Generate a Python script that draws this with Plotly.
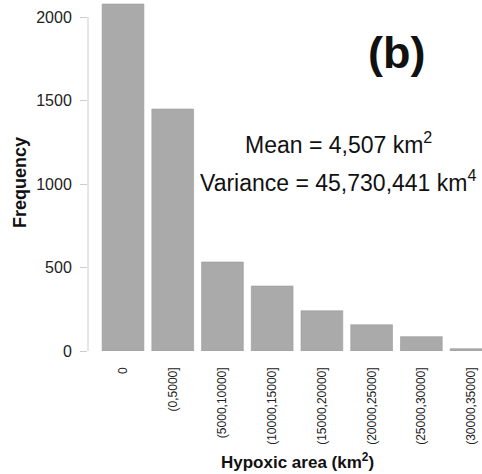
import plotly.graph_objects as go

categories = ["0", "(0,5000]", "(5000,10000]", "(10000,15000]", "(15000,20000]",
              "(20000,25000]", "(25000,30000]", "(30000,35000]"]
frequency = [2078, 1449, 533, 389, 241, 157, 86, 14]
y_ticks = [0, 500, 1000, 1500, 2000]

W, H = 482, 474
L, R, T, B = 88, 0, 0, 123

fig = go.Figure()
fig.add_trace(go.Bar(
    x=list(range(len(categories))), y=frequency,
    marker=dict(color="#aaaaaa", line=dict(color="#9a9a9a", width=0.6)),
    hoverinfo="skip",
))

fig.update_layout(
    width=W, height=H,
    margin=dict(l=L, r=R, t=T, b=B, pad=0),
    plot_bgcolor="white", paper_bgcolor="white",
    bargap=0.16, showlegend=False,
    font=dict(family="Liberation Sans, Arial, sans-serif", color="#111111"),
)
fig.update_xaxes(
    range=[-0.704, 7.22], tickmode="array",
    tickvals=list(range(len(categories))), ticktext=categories,
    tickangle=-90, tickfont=dict(size=12, color="#222222"),
    ticks="", showline=False, showgrid=False, zeroline=False,
    ticklabelstandoff=13,
)
fig.update_yaxes(
    range=[0, 2102], tickvals=y_ticks,
    tickfont=dict(size=16, color="#222222"),
    ticks="outside", ticklen=7, tickcolor="#cccccc", tickwidth=1,
    showline=False, showgrid=False, zeroline=False,
    ticklabelstandoff=5,
)
fig.add_shape(type="line", xref="paper", yref="y", x0=0, x1=0, y0=0, y1=2000,
              line=dict(color="#cccccc", width=1))

pw = W - L - R
ph = H - T - B

def px(x):
    return (x - L) / pw

def py(y):
    return (T + ph - y) / ph

fig.add_annotation(x=px(338), y=py(143), xref="paper", yref="paper",
                   text="Mean = 4,507 km<sup>2</sup>", showarrow=False,
                   font=dict(size=23, color="#111111"), xanchor="center", yanchor="middle")
fig.add_annotation(x=px(338), y=py(181), xref="paper", yref="paper",
                   text="Variance = 45,730,441 km<sup>4</sup>", showarrow=False,
                   font=dict(size=23, color="#111111"), xanchor="center", yanchor="middle")
fig.add_annotation(x=px(396), y=py(52), xref="paper", yref="paper",
                   text="<b>(b)</b>", showarrow=False,
                   font=dict(size=45, color="#111111"), xanchor="center", yanchor="middle")
fig.add_annotation(x=px(20), y=py(183), xref="paper", yref="paper",
                   text="<b>Frequency</b>", showarrow=False, textangle=-90,
                   font=dict(size=18, color="#111111"), xanchor="center", yanchor="middle")
fig.add_annotation(x=px(297), y=py(461), xref="paper", yref="paper",
                   text="<b>Hypoxic area (km<sup>2</sup>)</b>", showarrow=False,
                   font=dict(size=17, color="#111111"), xanchor="center", yanchor="middle")

fig.write_html("out.html")
